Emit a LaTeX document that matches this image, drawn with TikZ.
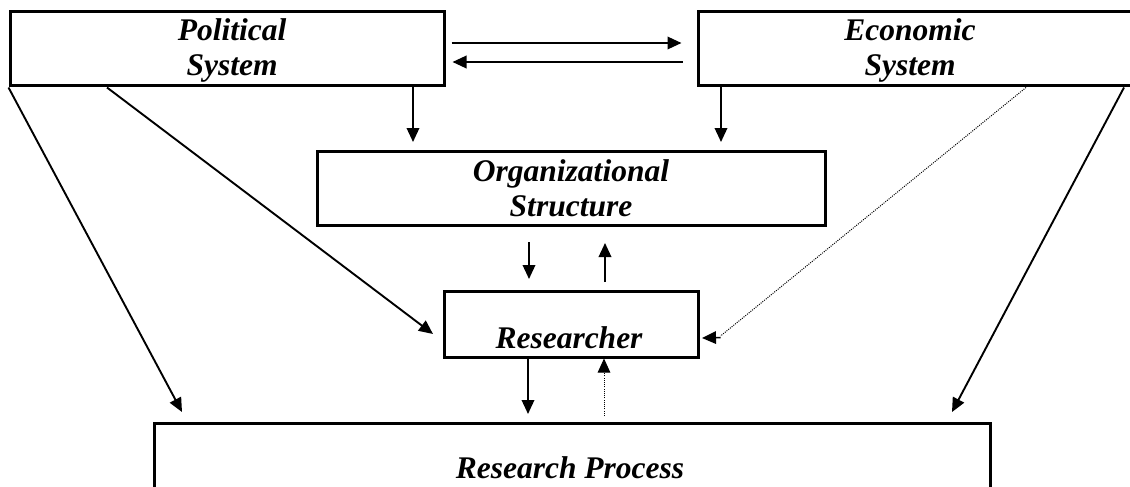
\documentclass[tikz,border=0pt]{standalone}
\usepackage{fontspec}
\setmainfont{Liberation Serif}
\usetikzlibrary{arrows.meta,calc}
\tikzset{
  box/.style={draw, line width=3pt, inner sep=0pt, rectangle},
  txt/.style={font=\fontsize{31.5}{35}\selectfont\bfseries\itshape, align=center, inner sep=0pt},
  arr/.style={line width=1.9pt, -{Triangle[length=14pt,width=12.5pt]}},
  dotline/.style={line width=1pt, dash pattern=on 1pt off 1.2pt},
  dotarr/.style={line width=1pt, dash pattern=on 1pt off 1.2pt, -{Triangle[length=14pt,width=12.5pt]}}
}
\begin{document}
\begin{tikzpicture}[x=1pt,y=-1pt]
\useasboundingbox (0,0) rectangle (1130,487);
\fill[white] (0,0) rectangle (1130,487);
% boxes
\node[box, minimum width=434pt, minimum height=74pt] (pol) at (227,49) {};
\node[txt] (polt) at (232,50) {Political\\System};
\node[box, minimum width=438pt, minimum height=74pt] (eco) at (917,49) {};
\node[txt] (ecot) at (910,50) {Economic\\System};
\node[box, minimum width=508pt, minimum height=74pt, txt] (org) at (571,188) {Organizational\\Structure};
\node[box, minimum width=254pt, minimum height=66pt] (res) at (571,324) {};
\node[txt, anchor=base] (rest) at (569,348) {Researcher};
\node[box, minimum width=836pt, minimum height=86pt] (proc) at (572,466) {};
\node[txt, anchor=base] (proct) at (570,478) {Research Process};
% connectors
\draw[arr, shorten <=6pt, shorten >=15pt] (pol.east |- 0,43) -- (eco.west |- 0,43);
\draw[arr, shorten <=14pt, shorten >=7pt] (eco.west |- 0,62) -- (pol.east |- 0,62);
\draw[arr, shorten >=7.5pt] (pol.south -| 413,0) -- (org.north -| 413,0);
\draw[arr, shorten >=7.5pt] (eco.south -| 721,0) -- (org.north -| 721,0);
\draw[arr, shorten <=15.5pt, shorten >=10.5pt] (org.south -| 529,0) -- (res.north -| 529,0);
\draw[arr, shorten <=7.5pt, shorten >=16.5pt] (res.north -| 605,0) -- (org.south -| 605,0);
\draw[arr, shorten >=7.5pt] (res.south -| 528,0) -- (proc.north -| 528,0);
\draw[dotarr, shorten <=5.5pt] (proc.north -| 604,0) -- (res.south -| 604,0);
\draw[arr] (pol.south -| 107,0) -- ($(res.west)+(-9.5,10)$);
\draw[arr] (pol.south west) -- ($(proc.north west)+(29.5,-9.5)$);
\draw[arr] (eco.south -| 1124,0) -- ($(proc.north east)+(-39.5,-9.5)$);
\draw[dotline] (eco.south -| 1026,0) -- ($(res.east)+(21,12)$);
\draw[arr, line width=1.5pt] ($(res.east)+(21,13.5)$) -- ($(res.east)+(2.5,14)$);
\end{tikzpicture}
\end{document}
